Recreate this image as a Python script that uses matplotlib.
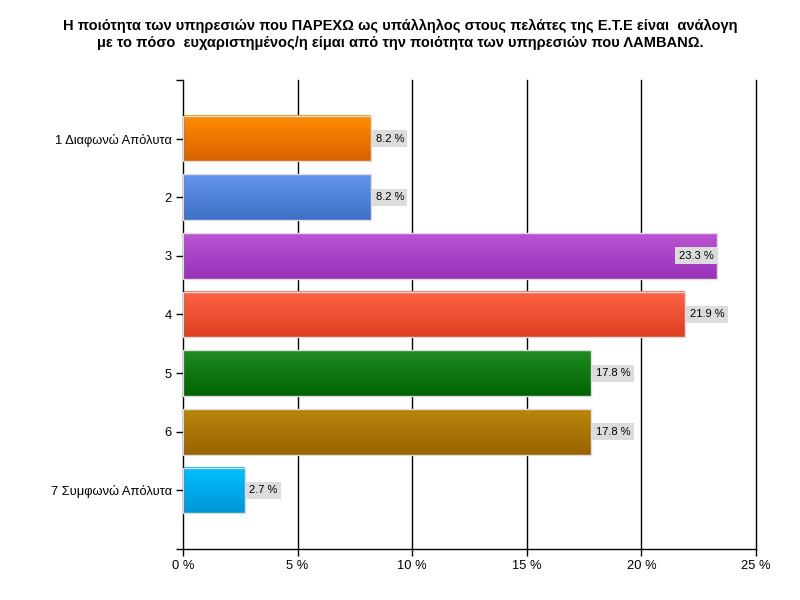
import numpy as np
import matplotlib
matplotlib.use("Agg")
import matplotlib.pyplot as plt
from matplotlib.colors import LinearSegmentedColormap

plt.rcParams['font.family'] = ['Liberation Sans', 'DejaVu Sans']

# Data
categories = ["1 Διαφωνώ Απόλυτα", "2", "3", "4", "5", "6", "7 Συμφωνώ Απόλυτα"]
values = [8.2, 8.2, 23.3, 21.9, 17.8, 17.8, 2.7]
top_colors = ["#FF8C00", "#6495ED", "#BA55D3", "#FF6347", "#228B22", "#B8860B", "#00BFFF"]
bottom_colors = ["#D96200", "#3F70C8", "#9932B8", "#DC4020", "#006400", "#996300", "#0096D8"]
x_ticks = [0, 5, 10, 15, 20, 25]
x_tick_labels = ["0 %", "5 %", "10 %", "15 %", "20 %", "25 %"]

title = ("Η ποιότητα των υπηρεσιών που ΠΑΡΕΧΩ ως υπάλληλος στους πελάτες της Ε.Τ.Ε είναι  ανάλογη\n"
         "με το πόσο  ευχαριστημένος/η είμαι από την ποιότητα των υπηρεσιών που ΛΑΜΒΑΝΩ.")

fig = plt.figure(figsize=(8, 6), dpi=100)
ax = fig.add_axes([0.22875, 0.085, 0.945 - 0.22875, 0.8667 - 0.085])

bar_h = 0.78
positions = np.arange(1, len(categories) + 1)

ax.set_xlim(0, 25)
ax.set_ylim(8, 0)

# grid lines
for xt in x_ticks[1:]:
    ax.axvline(xt, color="black", lw=1, zorder=1, clip_on=False)

for pos, val, c1, c2 in zip(positions, values, top_colors, bottom_colors):
    cmap = LinearSegmentedColormap.from_list("g", [c1, c2])
    grad = np.linspace(0, 1, 64).reshape(-1, 1)
    ax.imshow(grad, cmap=cmap, aspect="auto", interpolation="bilinear",
              extent=[0, val, pos + bar_h / 2, pos - bar_h / 2], zorder=2)
    ax.barh(pos, val, height=bar_h, color="none", edgecolor="#DDDDDD", lw=1, zorder=3)
    label = f"{val} %"
    if val > 22.5:
        ax.text(val - 0.15, pos, label, ha="right", va="center", fontsize=8, zorder=4,
                bbox=dict(facecolor="#DCDCDC", edgecolor="none", pad=2.5))
    else:
        ax.text(val + 0.2, pos, label, ha="left", va="center", fontsize=8, zorder=4,
                bbox=dict(facecolor="#DCDCDC", edgecolor="none", pad=2.5))

ax.set_xlim(0, 25)
ax.set_ylim(8, 0)

ax.set_xticks(x_ticks)
ax.set_xticklabels(x_tick_labels, fontsize=9.3)
ax.set_yticks(range(0, 9))
ax.set_yticklabels([""] + categories + [""], fontsize=9.3)
ax.tick_params(axis="both", length=5, width=1, color="black", pad=3)

for side in ["top", "right"]:
    ax.spines[side].set_visible(False)
ax.spines["left"].set_linewidth(1)
ax.spines["bottom"].set_linewidth(1)

fig.text(0.5, 0.942, title, ha="center", va="center", fontsize=10.5, fontweight="bold",
         linespacing=1.3)

fig.savefig("out.png", dpi=100)
